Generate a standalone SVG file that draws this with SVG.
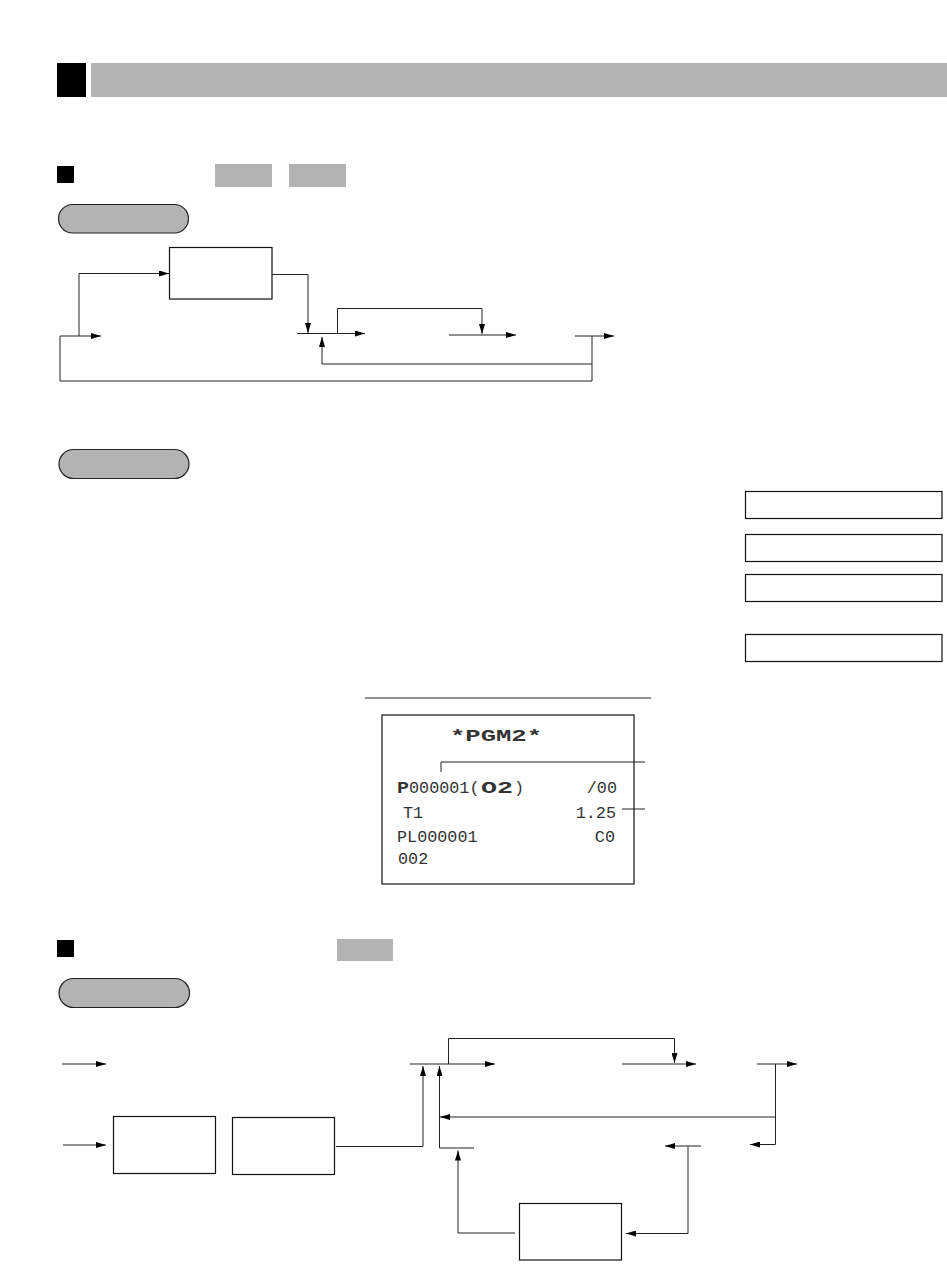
<svg xmlns="http://www.w3.org/2000/svg" width="947" height="1268" viewBox="0 0 947 1268">
<style>
.bar{fill:#b3b3b3}
.blk{fill:#000}
.pill{fill:#b3b3b3;stroke:#222;stroke-width:1.2}
.box{fill:#fff;stroke:#111;stroke-width:1.2}
.c{fill:none;stroke:#222;stroke-width:1}
.ca{fill:none;stroke:#222;stroke-width:1;marker-end:url(#ah)}
.r{font-family:"Liberation Mono","DejaVu Sans Mono",monospace;font-size:16.8px;fill:#333}
.rb{font-family:"Liberation Mono","DejaVu Sans Mono",monospace;font-size:17px;font-weight:bold;fill:#333}
</style>
<defs>
<marker id="ah" markerUnits="userSpaceOnUse" markerWidth="10" markerHeight="6" refX="10" refY="3" orient="auto">
<path d="M0,0 L10,3 L0,6 z" fill="#000"/>
</marker>
</defs>
<rect width="947" height="1268" fill="#fff"/>

<g id="header">
<rect class="blk" x="57" y="63" width="29" height="34"/>
<rect class="bar" x="91" y="63" width="856" height="34"/>
</g>

<g id="section1-title">
<rect class="blk" x="57" y="166" width="17" height="17"/>
<rect class="bar" x="215" y="164" width="57" height="23"/>
<rect class="bar" x="289" y="164" width="57" height="23"/>
</g>

<g id="pill1"><rect class="pill" x="58.5" y="204.5" width="130" height="28.5" rx="14.2"/></g>
<g id="box1"><rect class="box" x="169.5" y="247.5" width="102.5" height="51.5"/></g>

<g id="connectors1">
<path class="ca" d="M592,336 V381 H60 V336 H101"/>
<path class="ca" d="M79,336 V273.5 H169"/>
<path class="ca" d="M272,274.5 H308 V333"/>
<path class="ca" d="M297,333.5 H365"/>
<path class="ca" d="M337.5,333.5 V308.5 H482 V334"/>
<path class="ca" d="M449,335 H516"/>
<path class="ca" d="M575,336 H614"/>
<path class="ca" d="M592,364 H322 V337"/>
</g>

<g id="pill2"><rect class="pill" x="59" y="449.5" width="130" height="29" rx="14.5"/></g>

<g id="right-boxes">
<rect class="box" x="745.5" y="491.5" width="196.5" height="27"/>
<rect class="box" x="745.5" y="534.5" width="196.5" height="27"/>
<rect class="box" x="745.5" y="574.5" width="196.5" height="27"/>
<rect class="box" x="745.5" y="634.5" width="196.5" height="27"/>
</g>

<g id="receipt">
<line class="c" x1="365" y1="698" x2="651" y2="698"/>
<rect class="box" x="382" y="715" width="252" height="169"/>
<text class="rb" x="450" y="741" textLength="92" lengthAdjust="spacingAndGlyphs">*PGM2*</text>
<text class="rb" x="397" y="793" textLength="12" lengthAdjust="spacingAndGlyphs">P</text>
<text class="r" x="409" y="793">000001(</text>
<text class="rb" x="481" y="793" textLength="32" lengthAdjust="spacingAndGlyphs">O2</text>
<text class="r" x="514" y="793">)</text>
<text class="r" x="617" y="793" text-anchor="end">/00</text>
<text class="r" x="403" y="818">T1</text>
<text class="r" x="616" y="818" text-anchor="end">1.25</text>
<text class="r" x="397" y="842">PL000001</text>
<text class="r" x="615" y="842" text-anchor="end">C0</text>
<text class="r" x="398" y="864">002</text>
</g>
<g id="receipt-connectors">
<path class="c" d="M441,772 V762 H645"/>
<path class="c" d="M622,809 H645"/>
</g>

<g id="section2-title">
<rect class="blk" x="57" y="940" width="17" height="17"/>
<rect class="bar" x="337" y="939" width="56" height="22"/>
</g>
<g id="pill3"><rect class="pill" x="59" y="978.5" width="130.5" height="29" rx="14.5"/></g>

<g id="boxA"><rect class="box" x="113.5" y="1116.5" width="102" height="57"/></g>
<g id="boxB"><rect class="box" x="232.5" y="1117.5" width="102" height="57"/></g>
<g id="boxC"><rect class="box" x="519.5" y="1203.5" width="102" height="56.5"/></g>

<g id="connectors2">
<path class="ca" d="M62,1064 H106"/>
<path class="ca" d="M63,1145 H106"/>
<path class="ca" d="M336,1146.5 H423 V1066"/>
<path class="ca" d="M410,1064 H495"/>
<path class="ca" d="M448.5,1064 V1038.5 H674.5 V1063"/>
<path class="ca" d="M622,1064 H696"/>
<path class="ca" d="M757,1064 H797"/>
<path class="ca" d="M775.5,1064 V1144.5 H750"/>
<path class="ca" d="M775.5,1117 H440"/>
<path class="ca" d="M474,1148 H439.5 V1066"/>
<path class="ca" d="M515,1233 H458 V1150.5"/>
<path class="ca" d="M701,1146 H665"/>
<path class="ca" d="M688,1146 V1233.5 H626"/>
</g>
</svg>
